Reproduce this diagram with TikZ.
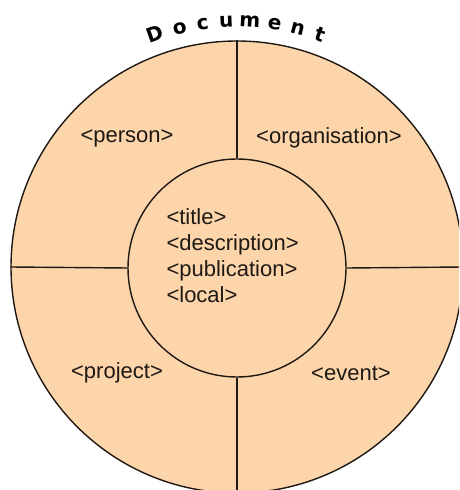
\documentclass[tikz,border=0pt]{standalone}
\usepackage{fontspec}
\setmainfont{Liberation Sans}
\newfontfamily\heavyfont{DejaVu Sans}
\usetikzlibrary{calc}
\definecolor{docfill}{RGB}{253,213,171}
\definecolor{docline}{RGB}{30,25,20}
\tikzset{
	ring/.style={circle, draw=docline, line width=1.4pt, fill=docfill, inner sep=0pt},
	part/.style={font=\fontsize{22}{26}\selectfont, text=docline},
	letter/.style={font=\heavyfont\fontsize{20}{20}\selectfont\bfseries, anchor=base, inner sep=0pt}
}
\begin{document}
\begin{tikzpicture}[x=1pt,y=1pt]
\useasboundingbox (0,0) rectangle (459,490);
\clip (0,0) rectangle (459,490);
\node (outer) [ring, minimum size=452pt] at (237,223) {};
\node (inner) [ring, minimum size=218pt] at (237,222) {};
\draw [docline, line width=1.4pt] (outer.north) -- (inner.north);
\draw [docline, line width=1.4pt] (inner.south) -- (outer.south);
\draw [docline, line width=1.4pt] (outer.west) -- (inner.west);
\draw [docline, line width=1.4pt] (inner.east) -- (outer.east);
\path
	(127,352) node [part] (person) {<person>}
	(329,352) node [part] (organisation) {<organisation>}
	(117,117) node [part] (project) {<project>}
	(351,117) node [part] (event) {<event>}
	(163,234) node [part, anchor=west, align=left] (core) {<title>\\<description>\\<publication>\\<local>};
% title letters round the top
\foreach \ch/\ang [count=\i] in {D/-19.5, o/-13.5, c/-8, u/-2.5, m/3, e/8.8, n/14.3, t/19.8}
	\node [letter, rotate=-\ang] (title\i) at ($(237,223)+(90-\ang:240)$) {\ch};
\end{tikzpicture}
\end{document}
